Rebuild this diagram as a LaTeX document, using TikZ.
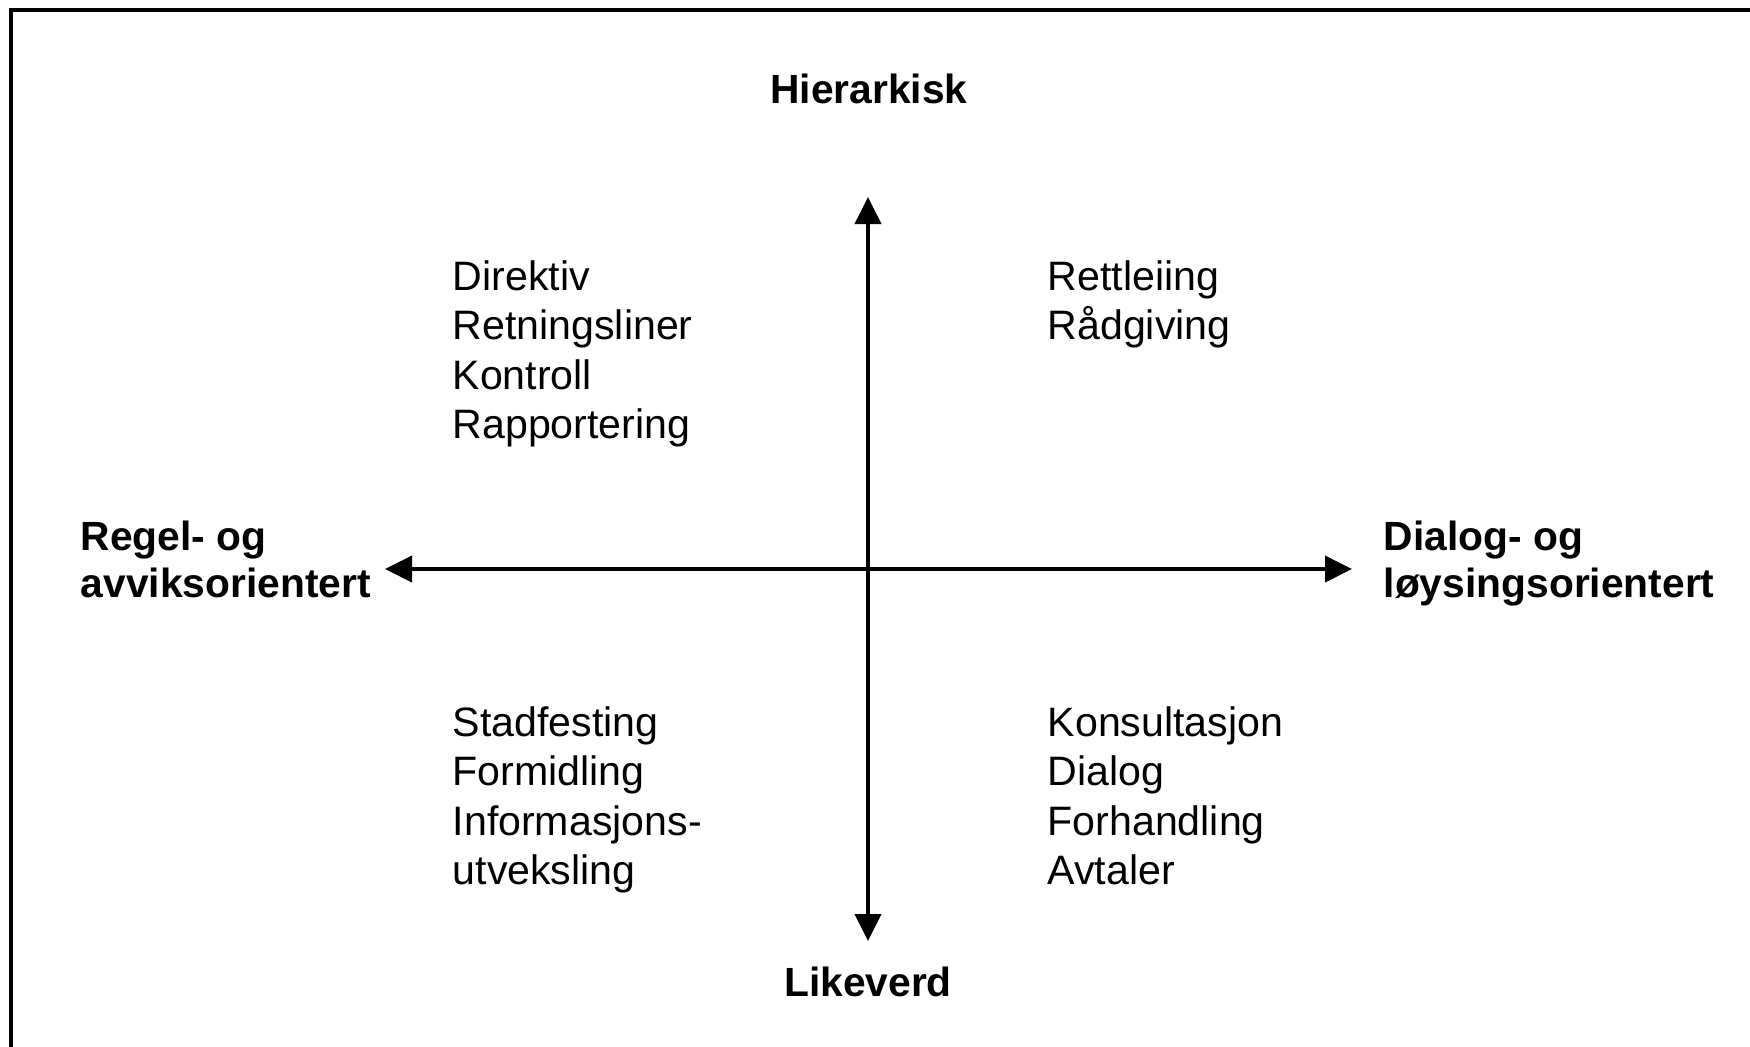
\documentclass[tikz,border=0pt]{standalone}
\usepackage{fontspec}
\setmainfont{Liberation Sans}
\usetikzlibrary{arrows.meta}

\tikzset{
	axis/.style={line width=1.1pt, -{Triangle[length=2.7mm,width=2.6mm]}},
	pole/.style={font=\bfseries\fontsize{11.6}{13.4}\selectfont, inner sep=0pt},
	quad/.style={font=\fontsize{11.7}{14.05}\selectfont, align=left, anchor=north west, inner sep=0pt}
}

\begin{document}
\begin{tikzpicture}[x=0.1mm, y=-0.1mm]
	\useasboundingbox (0, 0) rectangle (1750, 1046);
	\clip (0, 0) rectangle (1750, 1046);
	\draw [line width=0.9pt] (11, 10) rectangle (1790, 1090);
	\coordinate (c) at (868, 569);
	\coordinate (top) at (868, 197);
	\coordinate (bot) at (868, 941);
	\coordinate (lft) at (385, 569);
	\coordinate (rgt) at (1352, 569);
	\draw [axis] (c) -- (top);
	\draw [axis] (c) -- (bot);
	\draw [axis] (c) -- (lft);
	\draw [axis] (c) -- (rgt);
	\node [pole] (hier) at (869, 89) {Hierarkisk};
	\node [pole] (like) at (868, 982) {Likeverd};
	\node [pole, align=left, anchor=north west] (regel) at (80, 520) {Regel- og\\avviksorientert};
	\node [pole, align=left, anchor=north west] (dialog) at (1383, 520) {Dialog- og\\løysingsorientert};
	\node [quad] (ul) at (452, 260) {Direktiv\\Retningsliner\\Kontroll\\Rapportering};
	\node [quad] (ur) at (1047, 260) {Rettleiing\\Rådgiving};
	\node [quad] (ll) at (452, 706) {Stadfesting\\Formidling\\Informasjons-\\utveksling};
	\node [quad] (lr) at (1047, 706) {Konsultasjon\\Dialog\\Forhandling\\Avtaler};
\end{tikzpicture}
\end{document}
